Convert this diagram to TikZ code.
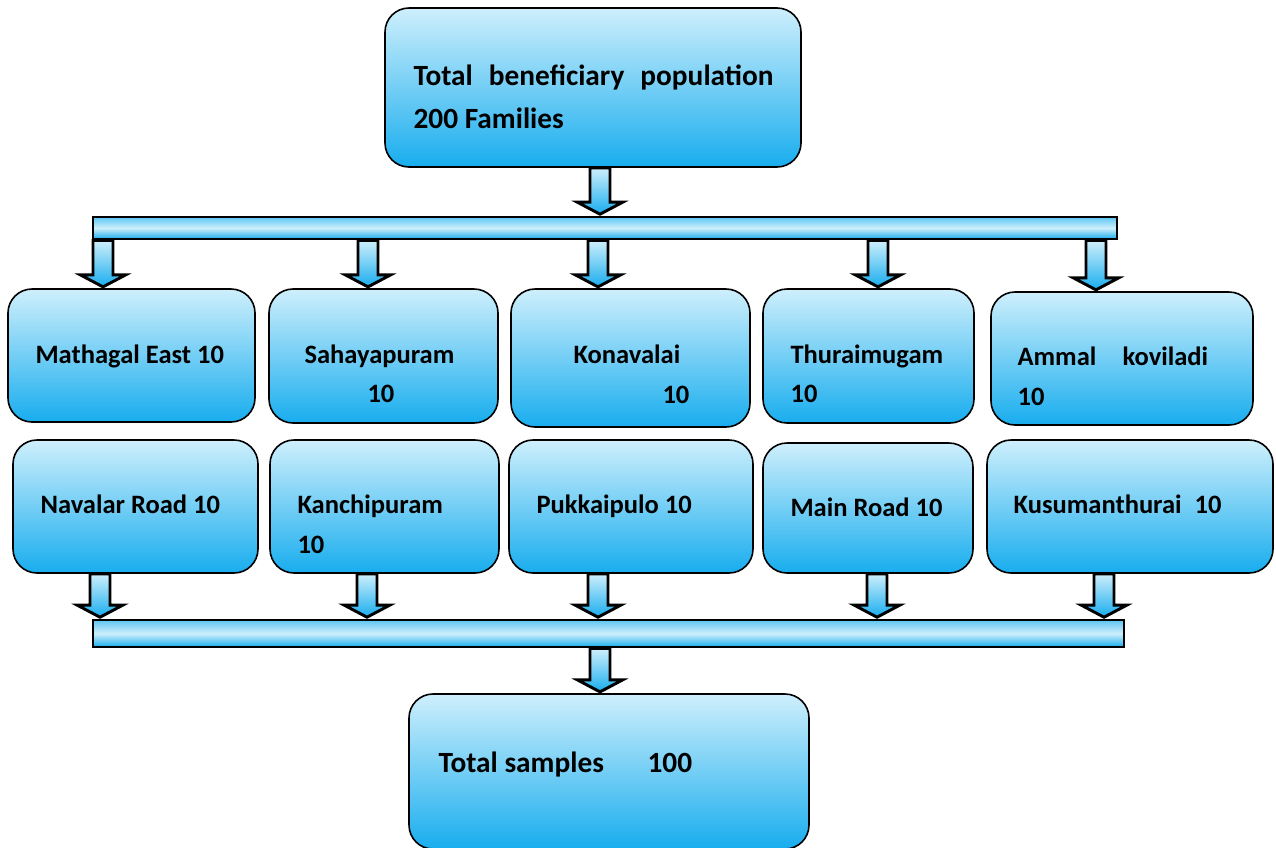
\documentclass[tikz,border=0pt]{standalone}
\usepackage{fontspec}
\setmainfont{Carlito}
\usepackage{tikz}
\usetikzlibrary{calc,fit,positioning}

\definecolor{boxlight}{RGB}{206,239,252}
\definecolor{boxblue}{RGB}{24,173,238}

% block arrow: #1 = x position, #2 = start anchor, #3 = end anchor
\newcommand{\fatarrow}[3]{%
  \path[fatarrow] let \p1=(#2), \p2=(#3), \p3=(#1,0) in
    (\x3-7.5pt,\y1) -- (\x3-7.5pt,\y2+10pt) -- (\x3-17pt,\y2+10pt) -- (\x3,\y2+1pt)
    -- (\x3+17pt,\y2+10pt) -- (\x3+7.5pt,\y2+10pt) -- (\x3+7.5pt,\y1) -- cycle;}

\begin{document}
\begin{tikzpicture}[x=0.75pt, y=-0.75pt, thick]
	\tikzset{sbox/.style={rounded corners=18pt, draw=black, line width=1.2pt, inner sep=0pt,
			top color=boxlight, bottom color=boxblue},
		barbox/.style={draw=black, line width=2.2pt, inner sep=0pt,
			top color=boxblue!70, bottom color=boxblue, middle color=boxlight},
		fatarrow/.style={draw=black, line width=2.2pt, line join=miter,
			top color=boxlight, bottom color=boxblue},
		lbl/.style={inner sep=0pt, anchor=base west, font=\bfseries\fontsize{19.9pt}{24pt}\selectfont},
		biglbl/.style={lbl, font=\bfseries\fontsize{22pt}{26pt}\selectfont}}
	\useasboundingbox (0,0) rectangle (1276,847);

	% Boxes
	\node[sbox, fit={(385,8) (801,167)}] (total) {};
	\node[barbox, fit={(93,217) (1117,239)}] (bar1) {};
	\node[sbox, fit={(8,289) (255,422)}] (b1) {};
	\node[sbox, fit={(269,289) (498,423)}] (b2) {};
	\node[sbox, fit={(511,289) (750,427)}] (b3) {};
	\node[sbox, fit={(763,289) (974,423)}] (b4) {};
	\node[sbox, fit={(991,292) (1253,425)}] (b5) {};
	\node[sbox, fit={(13,440) (258,573)}] (c1) {};
	\node[sbox, fit={(270,440) (499,573)}] (c2) {};
	\node[sbox, fit={(509,440) (753,573)}] (c3) {};
	\node[sbox, fit={(763,443) (973,573)}] (c4) {};
	\node[sbox, fit={(987,440) (1273,573)}] (c5) {};
	\node[barbox, fit={(93,620) (1124,647)}] (bar2) {};
	\node[sbox, fit={(409,694) (809,849)}] (sum) {};

	% Labels
	\node[biglbl] (total1) at (413,85) {\makebox[270pt][s]{Total beneficiary population}};
	\node[biglbl] (total2) at (413,128) {200 Families};
	\node[lbl] (b1t) at (35,363) {Mathagal East 10};
	\node[lbl] (b2t) at (304,363) {Sahayapuram};
	\node[lbl] (b2n) at (367,402) {10};
	\node[lbl] (b3t) at (573,363) {Konavalai};
	\node[lbl] (b3n) at (662,403) {10};
	\node[lbl] (b4t) at (790,363) {Thuraimugam};
	\node[lbl] (b4n) at (790,402) {10};
	\node[lbl] (b5t) at (1017,365) {\makebox[143pt][s]{Ammal koviladi}};
	\node[lbl] (b5n) at (1017,405) {10};
	\node[lbl] (c1t) at (40,513) {Navalar Road 10};
	\node[lbl] (c2t) at (297,513) {Kanchipuram};
	\node[lbl] (c2n) at (297,553) {10};
	\node[lbl] (c3t) at (536,513) {Pukkaipulo 10};
	\node[lbl] (c4t) at (790,516) {Main Road 10};
	\node[lbl] (c5t) at (1013,513) {\makebox[156pt][s]{Kusumanthurai 10}};
	\node[biglbl] (sumt) at (438,772) {Total samples};
	\node[biglbl] (sumn) at (647,772) {100};

	% Arrows
	\fatarrow{600}{total.south}{bar1.north}
	\foreach \ax/\bx in {103/b1,368/b2,598/b3,878/b4,1096/b5}
		\fatarrow{\ax}{bar1.south}{\bx.north};
	\foreach \ax/\cx in {100/c1,367/c2,598/c3,877/c4,1104/c5}
		\fatarrow{\ax}{\cx.south}{bar2.north};
	\fatarrow{600}{bar2.south}{sum.north}
\end{tikzpicture}
\end{document}
